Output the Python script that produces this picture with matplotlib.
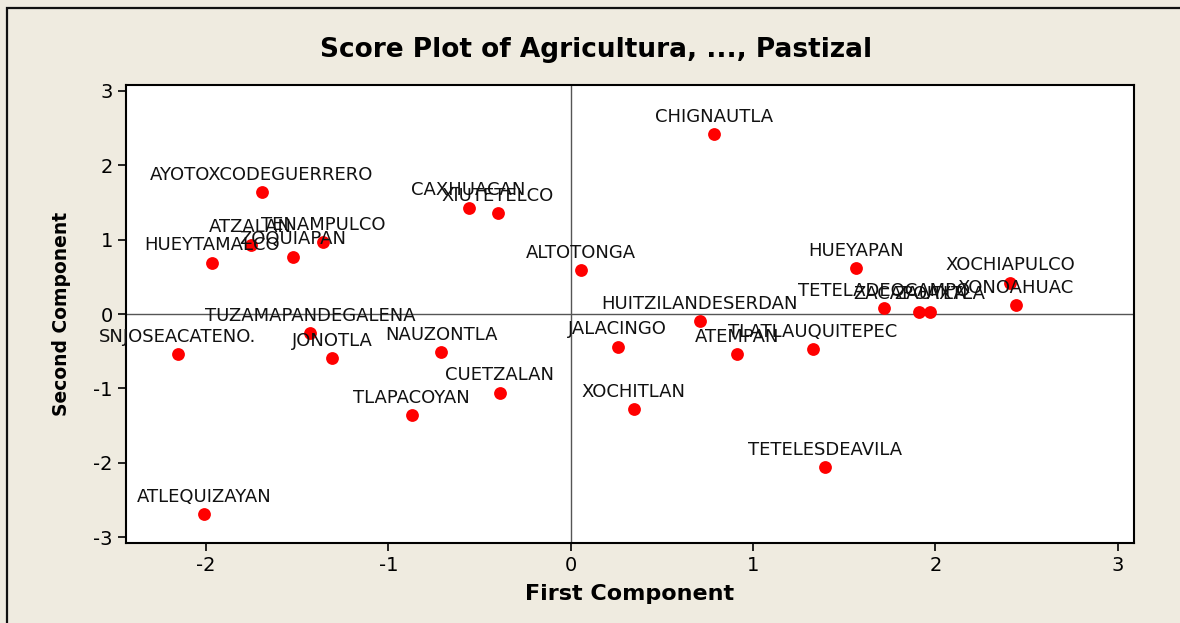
import matplotlib.pyplot as plt
from matplotlib.patches import Rectangle

plt.rcParams["axes.unicode_minus"] = False

names = ["CHIGNAUTLA", "AYOTOXCODEGUERRERO", "CAXHUACAN", "XIUTETELCO", "ATZALAN",
         "TENAMPULCO", "ZOQUIAPAN", "HUEYTAMALCO", "ALTOTONGA", "HUEYAPAN",
         "XOCHIAPULCO", "XONOAHUAC", "TETELADEOCAMPO", "ZACAPOAXTLA", "ZAUTLA",
         "HUITZILANDESERDAN", "JALACINGO", "ATEMPAN", "TLATLAUQUITEPEC",
         "TUZAMAPANDEGALENA", "SNJOSEACATENO.", "JONOTLA", "NAUZONTLA", "CUETZALAN",
         "TLAPACOYAN", "XOCHITLAN", "TETELESDEAVILA", "ATLEQUIZAYAN"]
first = [0.785, -1.696, -0.56, -0.40, -1.756,
         -1.36, -1.526, -1.97, 0.055, 1.564,
         2.41, 2.44, 1.72, 1.91, 1.97,
         0.708, 0.258, 0.91, 1.328,
         -1.43, -2.157, -1.31, -0.71, -0.39,
         -0.873, 0.346, 1.394, -2.01]
second = [2.42, 1.64, 1.43, 1.36, 0.93,
          0.97, 0.77, 0.69, 0.59, 0.62,
          0.42, 0.12, 0.08, 0.03, 0.03,
          -0.094, -0.44, -0.54, -0.47,
          -0.26, -0.54, -0.59, -0.51, -1.06,
          -1.36, -1.28, -2.06, -2.69]

bg = "#efebe0"
fig = plt.figure(figsize=(11.8, 6.23), dpi=100, facecolor=bg)
# outer frame, only left and top edges fall inside the picture
fig.patches.append(Rectangle((7 / 1180, -0.05), 1.2, 1 - 8 / 623 + 0.05,
                             transform=fig.transFigure, fill=False,
                             edgecolor="#111111", lw=1.6))

ax = fig.add_axes([126 / 1180, 80 / 623, 1008 / 1180, 458 / 623])
ax.set_facecolor("white")
ax.axvline(0, color="#555555", lw=1, zorder=1)
ax.axhline(0, color="#555555", lw=1, zorder=1)
ax.scatter(first, second, s=85, color="#ff0000", zorder=3, linewidths=0)
for n, x, y in zip(names, first, second):
    ax.annotate(n, (x, y), xytext=(0, 12.5), textcoords="offset points",
                ha="center", va="center", fontsize=13, color="#111111", zorder=4)

ax.set_xlim(-2.44, 3.09)
ax.set_ylim(-3.08, 3.08)
ax.set_xticks([-2, -1, 0, 1, 2, 3])
ax.set_yticks([-3, -2, -1, 0, 1, 2, 3])
ax.tick_params(direction="out", length=6, width=1.2, labelsize=14)
for s in ax.spines.values():
    s.set_linewidth(1.5)

ax.set_xlabel("First Component", fontsize=16, fontweight="bold", labelpad=6)
ax.set_ylabel("Second Component", fontsize=13.5, fontweight="bold", labelpad=16)
fig.text(596 / 1180, 1 - 50 / 623, "Score Plot of Agricultura, ..., Pastizal",
         ha="center", va="center", fontsize=19, fontweight="bold")

fig.savefig("out.png", dpi=100, facecolor=bg)
